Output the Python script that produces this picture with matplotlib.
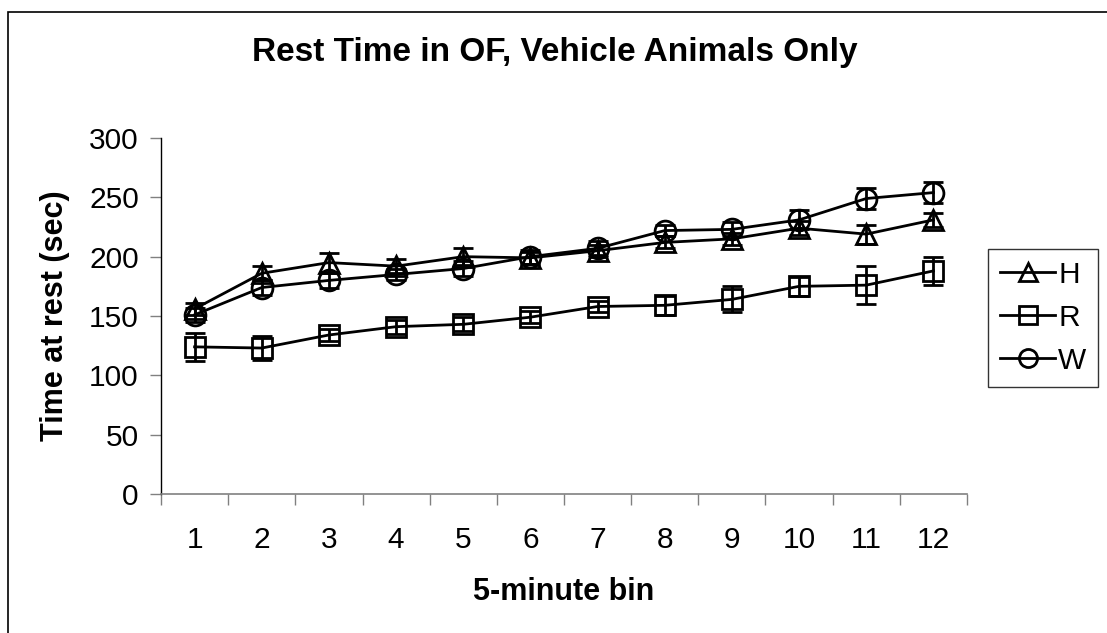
import matplotlib
matplotlib.use('Agg')
import matplotlib.pyplot as plt
import numpy as np
from matplotlib.patches import Rectangle
from matplotlib.lines import Line2D

plt.rcParams['font.family'] = ['Liberation Sans', 'DejaVu Sans']

# rest time per 5-minute bin, mean and error
bins = ['1', '2', '3', '4', '5', '6', '7', '8', '9', '10', '11', '12']
H_mean = [156, 186, 195, 192, 200, 199, 205, 212, 215, 224, 219, 231]
H_err = [5, 6, 8, 6, 7, 5, 5, 5, 5, 6, 8, 6]
R_mean = [124, 123, 134, 141, 143, 149, 158, 159, 164, 175, 176, 188]
R_err = [12, 10, 5, 6, 6, 5, 5, 8, 11, 8, 16, 12]
W_mean = [151, 174, 180, 185, 190, 200, 207, 222, 223, 231, 249, 254]
W_err = [6, 6, 6, 5, 6, 6, 6, 5, 6, 8, 9, 9]

W, Hh = 1107, 633
fig = plt.figure(figsize=(W / 100, Hh / 100), dpi=100)
fig.patch.set_facecolor('white')

# chart-area border (runs off the right and bottom edges)
fig.patches.append(Rectangle((8 / W, -0.1), 1.2, 1 - 12 / Hh + 0.1, transform=fig.transFigure,
                             fill=False, edgecolor='black', linewidth=1.2, zorder=0))

ax = fig.add_axes([161 / W, 1 - 494 / Hh, (967 - 161) / W, (494 - 138) / Hh])
x = np.arange(1, len(bins) + 1)

lw = 2.0
style = dict(color='black', linewidth=lw, markersize=15, markerfacecolor='none',
             markeredgewidth=lw, markeredgecolor='black', ecolor='black',
             elinewidth=lw, capsize=7.5, capthick=lw)
ax.errorbar(x, H_mean, yerr=H_err, marker='^', **style)
ax.errorbar(x, R_mean, yerr=R_err, marker='s', **style)
ax.errorbar(x, W_mean, yerr=W_err, marker='o', **style)

ax.set_xlim(0.5, 12.5)
ax.set_ylim(0, 300)
ax.set_yticks(np.arange(0, 301, 50))
ax.set_yticklabels([str(v) for v in range(0, 301, 50)], fontsize=21.5)
ax.set_xticks(x)
ax.set_xticklabels(bins, fontsize=21.5)
ax.set_xticks(np.arange(0.5, 12.6, 1), minor=True)
ax.tick_params(axis='x', which='major', length=0, pad=23)
ax.tick_params(axis='x', which='minor', length=8, width=1, color='#808080')
ax.tick_params(axis='y', length=8, width=1, color='#808080', pad=8)

for s in ['top', 'right']:
    ax.spines[s].set_visible(False)
ax.spines['left'].set_color('black')
ax.spines['left'].set_linewidth(1)
ax.spines['bottom'].set_color('#808080')
ax.spines['bottom'].set_linewidth(1.2)

fig.text(555 / W, 1 - 53 / Hh, 'Rest Time in OF, Vehicle Animals Only', ha='center', va='center',
         fontsize=24, fontweight='bold')
fig.text(55 / W, 1 - 316 / Hh, 'Time at rest (sec)', ha='center', va='center', rotation=90,
         fontsize=22, fontweight='bold')
fig.text(564 / W, 1 - 592 / Hh, '5-minute bin', ha='center', va='center',
         fontsize=22, fontweight='bold')

# legend keys: line with open marker, no error bars
handles = [Line2D([], [], color='black', linewidth=lw, marker=m, markersize=13,
                  markerfacecolor='none', markeredgecolor='black', markeredgewidth=lw)
           for m in ['^', 's', 'o']]
leg = fig.legend(handles, ['H', 'R', 'W'], loc='upper left', bbox_to_anchor=(988 / W, 1 - 249 / Hh),
                 fontsize=21.5, frameon=True, fancybox=False, edgecolor='black', borderaxespad=0,
                 handlelength=1.85, handletextpad=0.1, labelspacing=0.5, borderpad=0.4)
leg.get_frame().set_linewidth(1)

fig.savefig('out.png', dpi=100, facecolor='white')
